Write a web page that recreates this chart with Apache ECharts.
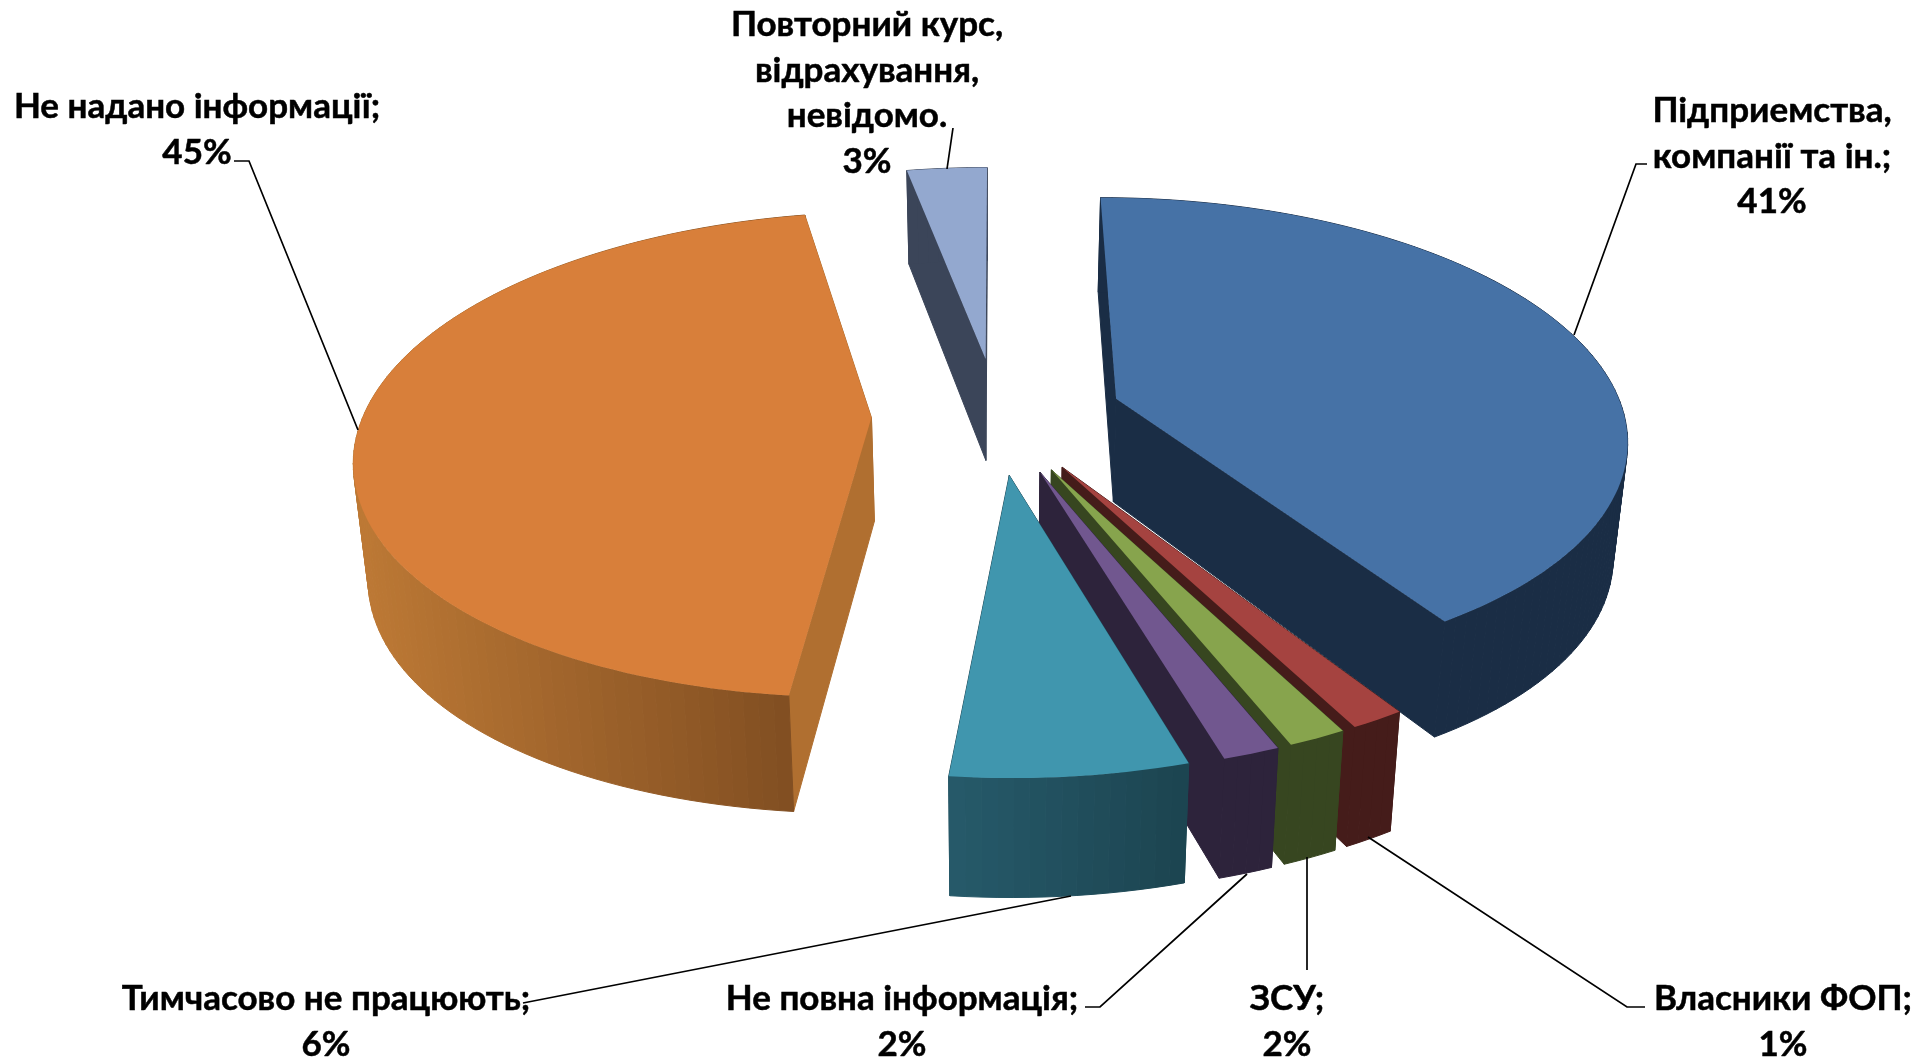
<!DOCTYPE html>
<html><head><meta charset="utf-8">
<style>html,body{margin:0;padding:0;background:#fff}#c{width:1930px;height:1061px}</style>
<script src="https://cdn.jsdelivr.net/npm/echarts@6/dist/echarts.min.js"></script>
</head><body><div id="c"></div>
<script>
const categories = ["Підприемства,\nкомпанії та ін.;","Власники ФОП;","ЗСУ;","Не повна інформація;","Тимчасово не працюють;","Не надано інформації;","Повторний курс,\nвідрахування,\nневідомо."];
const values = [40.9,1.45,1.55,1.5,6.2,45.4,3];
const labelPercents = [41,1,2,2,6,45,3];
const topColors = ['#4672a6','#a54340','#87a44d','#71578f','#4096ae','#d87f3a','#93a8cf'];
const radialWall = ['#1a2d45','#451c1a','#374620','#2d233b','#1f4a58','#b06f30','#3b4559'];
const outerLeft = ['#1a2d45','#451c1a','#374620','#2d233b','#265a6a','#bd7935','#3b4559'];
const outerRight = ['#1a2d45','#451c1a','#374620','#2d233b','#1c4450','#7f4d21','#3b4559'];
const drawOrder = [6,5,0,1,2,3,4];
const labelAnchors = [[1772,88],[1783,976],[1287,976],[902,976],[326,976],[197,84],[867,2]];
const leaders = [
 [[1647,164],[1636,164],[1574,335]],
 [[1368,837],[1627,1007],[1645,1007]],
 [[1307,857],[1307,970]],
 [[1247,874],[1100,1007],[1085,1007]],
 [[1071,896],[523,1003]],
 [[234,161],[249,161],[358,430]],
 [[953,128],[947,169]]
];
const view = {cx:997, cy:415, R:508, k:0.465, p:0.152, explode:0.247, start:0,
  sx:0.977, ya:1.043, yb:86, bow:10};
const total = values.reduce((a,b)=>a+b,0);
function proj(X,Y){const f=1/(1-view.p*Y);return [view.cx+X*view.R*f, view.cy+Y*view.k*view.R*f];}
function drop(p,extra){return [view.cx+(p[0]-view.cx)*view.sx, view.ya*p[1]+view.yb+(extra||0)];}
function sliceRange(i){let s=0;for(let j=0;j<i;j++)s+=values[j];
  return [view.start+s/total*360, view.start+(s+values[i])/total*360];}
function lerpColor(a,b,t){
  const ca=[1,3,5].map(n=>parseInt(a.substr(n,2),16)), cb=[1,3,5].map(n=>parseInt(b.substr(n,2),16));
  return 'rgb('+ca.map((v,n)=>Math.round(v+(cb[n]-v)*t)).join(',')+')';
}
function renderSlice(params,api){
  const i=params.dataIndex;
  const [a0,a1]=sliceRange(i);
  const mid=(a0+a1)/2*Math.PI/180;
  const ox=Math.sin(mid)*view.explode, oy=-Math.cos(mid)*view.explode;
  const apex=proj(ox,oy);
  const arc=[],arcB=[];const steps=Math.max(4,Math.ceil((a1-a0)/1.5));
  for(let s=0;s<=steps;s++){const t=(a0+(a1-a0)*s/steps)*Math.PI/180;
    const p=proj(ox+Math.sin(t),oy-Math.cos(t));
    arc.push(p);arcB.push(drop(p,view.bow*Math.sin(t)*Math.sin(t)));}
  const apexB=drop(apex);
  const rank=drawOrder.indexOf(i)*10;
  const poly=(pts,fill,z,edge)=>({type:'polygon',shape:{points:pts},style:{fill:fill,stroke:edge||null,lineWidth:edge?1:0,lineJoin:'round'},z2:rank+z,silent:true});
  const wallA=[apex,arc[0],arcB[0],apexB], wallB=[apex,arc[steps],arcB[steps],apexB];
  const firstBack=Math.cos(a0*Math.PI/180)>Math.cos(a1*Math.PI/180);
  const c=[];
  c.push(poly(firstBack?wallA:wallB,radialWall[i],1,radialWall[i]));
  c.push(poly(firstBack?wallB:wallA,radialWall[i],2,radialWall[i]));
  const xs=arc.map(p=>p[0]), minX=Math.min(...xs), maxX=Math.max(...xs);
  for(let s=0;s<steps;s++){
    const t=((arc[s][0]+arc[s+1][0])/2-minX)/((maxX-minX)||1);
    const col=lerpColor(outerLeft[i],outerRight[i],t);
    c.push(poly([arc[s],arc[s+1],arcB[s+1],arcB[s]],col,3,col));
  }
  c.push(poly([apex].concat(arc),topColors[i],4));
  return {type:'group',children:c};
}
const graphics=[];
categories.forEach((name,i)=>{
  graphics.push({type:'polyline',z:10,shape:{points:leaders[i]},style:{stroke:'#000',lineWidth:1.7,fill:null}});
  graphics.push({type:'text',z:11,x:labelAnchors[i][0],y:labelAnchors[i][1],style:{
    text:name+'\n'+labelPercents[i]+'%',align:'center',verticalAlign:'top',
    font:'bold 35px Lato, "Noto Sans", sans-serif',lineHeight:45.5,fill:'#000',stroke:'#000',lineWidth:0.5}
    });
});
const chart=echarts.init(document.getElementById('c'),null,{renderer:'canvas'});
chart.setOption({animation:false,backgroundColor:'#fff',
  series:[{type:'custom',coordinateSystem:'none',data:values.map(v=>[v]),renderItem:renderSlice,silent:true}],
  graphic:graphics});
</script></body></html>
